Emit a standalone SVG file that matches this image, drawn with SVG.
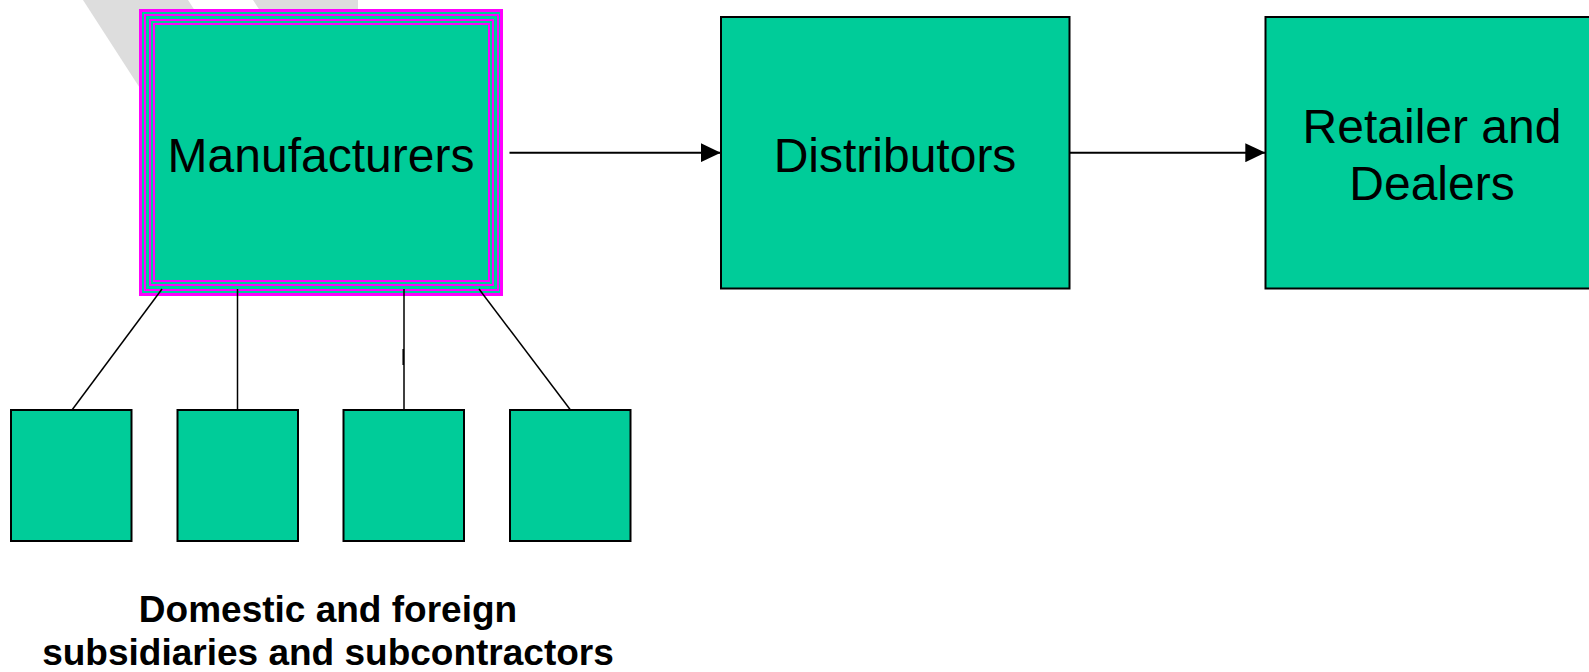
<svg xmlns="http://www.w3.org/2000/svg" width="1589" height="672" viewBox="0 0 1589 672">
  <style>
    .box { fill: #00CC99; stroke: #000; stroke-width: 2; }
    .label { font-family: "Liberation Sans", Arial, Helvetica, sans-serif; font-size: 48px; fill: #000; text-anchor: middle; }
    .caption { font-family: "Liberation Sans", Arial, Helvetica, sans-serif; font-size: 37px; font-weight: bold; fill: #000; text-anchor: middle; }
    .band { fill: none; stroke: #FF00FF; }
    .link { fill: none; stroke: #000; stroke-width: 1.5; }
    .flow { fill: none; stroke: #000; stroke-width: 2; }
    .shade { fill: #DDDDDD; }
  </style>
  <defs>
    <marker id="head" viewBox="0 0 20 19" refX="20" refY="9.5" markerWidth="20" markerHeight="19" markerUnits="userSpaceOnUse" orient="auto">
      <path d="M0,0 L20,9.5 L0,19 Z" fill="#000"/>
    </marker>
  </defs>

  <rect width="1589" height="672" fill="#FFFFFF"/>

  <!-- faint background strokes -->
  <g id="backdrop">
    <polygon class="shade" points="83,0 188,0 250,96 145,96"/>
    <polygon class="shade" points="253,0 358,0 358,40 279,40"/>
  </g>

  <!-- manufacturers: teal block with nested magenta frames -->
  <g id="manufacturers">
    <rect x="139" y="9" width="364" height="287" fill="#00CC99"/>
    <rect class="band" x="140.5" y="10.5" width="361" height="284" stroke-width="3"/>
    <rect class="band" x="145" y="15" width="353" height="275" stroke-width="2"/>
    <rect class="band" x="150" y="20" width="343" height="265" stroke-width="2"/>
    <rect class="band" x="154" y="24" width="335" height="257" stroke-width="2"/>
    <text class="label" x="321" y="171.7">Manufacturers</text>
  </g>

  <g id="distributors">
    <rect class="box" x="721" y="17" width="348.5" height="271.5"/>
    <text class="label" x="895" y="172">Distributors</text>
  </g>

  <g id="retailers">
    <rect class="box" x="1265.5" y="17" width="340" height="271.5"/>
    <text class="label" x="1432" y="142.5">Retailer and</text>
    <text class="label" x="1432" y="199.5">Dealers</text>
  </g>

  <g id="sub1"><rect class="box" x="11" y="410" width="120.5" height="131"/></g>
  <g id="sub2"><rect class="box" x="177.5" y="410" width="120.5" height="131"/></g>
  <g id="sub3"><rect class="box" x="343.5" y="410" width="120.5" height="131"/></g>
  <g id="sub4"><rect class="box" x="510" y="410" width="120.5" height="131"/></g>

  <g id="connectors">
    <line class="link" x1="162" y1="289" x2="72" y2="410"/>
    <line class="link" x1="237.5" y1="289" x2="237.5" y2="410"/>
    <path class="link" d="M404,289 V410 M403.2,349 V365"/>
    <line class="link" x1="479" y1="289" x2="570.5" y2="410"/>
    <line class="flow" x1="509.5" y1="152.7" x2="720.7" y2="152.7" marker-end="url(#head)"/>
    <line class="flow" x1="1069.5" y1="152.7" x2="1265.3" y2="152.7" marker-end="url(#head)"/>
  </g>

  <g id="caption">
    <text class="caption" x="328" y="622">Domestic and foreign</text>
    <text class="caption" x="328" y="665">subsidiaries and subcontractors</text>
  </g>
</svg>
